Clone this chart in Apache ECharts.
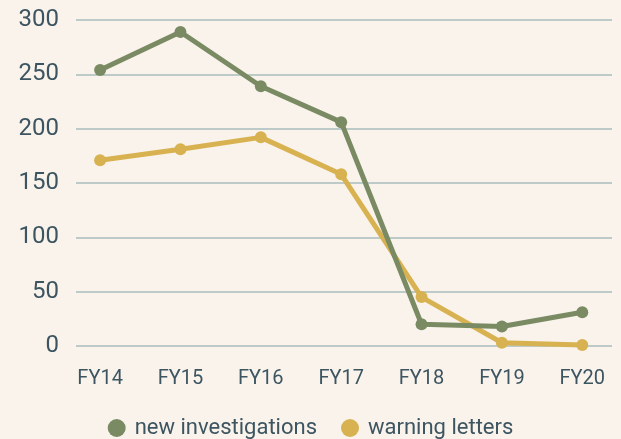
<!DOCTYPE html>
<html>
<head>
<meta charset="utf-8">
<script src="https://cdn.jsdelivr.net/npm/echarts@6/dist/echarts.min.js"></script>
<style>
html,body{margin:0;padding:0;background:#f9f3ec;}
#main{width:621px;height:439px;}
</style>
</head>
<body>
<div id="main"></div>
<script>
var categories = ['FY14', 'FY15', 'FY16', 'FY17', 'FY18', 'FY19', 'FY20'];
var newInvestigations = [254, 289, 239, 206, 20, 18, 31];
var warningLetters = [171, 181, 192, 158, 45, 3, 1];

// x is a value axis so the grid lines can run a bit past the first/last point
function pairs(vals) {
    return vals.map(function (v, i) { return [i, v]; });
}

var myChart = echarts.init(document.getElementById('main'));
myChart.setOption({
    backgroundColor: '#f9f3ec',
    textStyle: { fontFamily: 'Roboto' },
    grid: { left: 76, right: 9, top: 20, bottom: 93, containLabel: false },
    legend: {
        top: 417,
        left: 'center',
        padding: 0,
        icon: 'circle',
        itemWidth: 18,
        itemHeight: 18,
        itemGap: 24,
        textStyle: { color: '#3d5560', fontSize: 22, fontFamily: 'Roboto', padding: [0, 0, 0, 4] },
        data: ['new investigations', 'warning letters']
    },
    xAxis: {
        type: 'value',
        min: -0.3,
        max: 6.37,
        splitNumber: 7,
        axisLine: { show: false },
        axisTick: { show: false },
        splitLine: { show: false },
        axisLabel: {
            color: '#3d5560',
            fontSize: 20,
            margin: 23,
            showMinLabel: false,
            showMaxLabel: false,
            formatter: function (v) {
                return Number.isInteger(v) && categories[v] ? categories[v] : '';
            }
        }
    },
    yAxis: {
        type: 'value',
        min: 0,
        max: 300,
        interval: 50,
        axisLine: { show: false },
        axisTick: { show: false },
        axisLabel: { color: '#3d5560', fontSize: 24, margin: 17 },
        splitLine: { lineStyle: { color: '#a9bebd', width: 1.5 } }
    },
    series: [
        {
            name: 'warning letters',
            type: 'line',
            data: pairs(warningLetters),
            symbol: 'circle',
            symbolSize: 12,
            color: '#d8b250',
            lineStyle: { width: 5, color: '#d8b250' },
            itemStyle: { color: '#d8b250' }
        },
        {
            name: 'new investigations',
            type: 'line',
            data: pairs(newInvestigations),
            symbol: 'circle',
            symbolSize: 12,
            color: '#7a8b63',
            lineStyle: { width: 5, color: '#7a8b63' },
            itemStyle: { color: '#7a8b63' }
        }
    ]
});
</script>
</body>
</html>
